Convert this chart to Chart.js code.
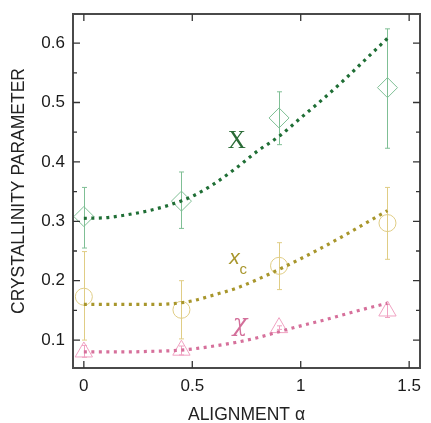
<!DOCTYPE html>
<html>
<head>
<meta charset="utf-8">
<script src="https://cdn.jsdelivr.net/npm/chart.js@4.4.1/dist/chart.umd.min.js"></script>
<style>
  html, body { margin: 0; padding: 0; background: #fff; }
  #wrap { width: 431px; height: 423px; }
</style>
</head>
<body>
<div id="wrap"><canvas id="chart" width="431" height="423"></canvas></div>
<script>
// measured points (alignment alpha)
const alphaPts = [0, 0.45, 0.9, 1.4];

const bigX = [0.308, 0.334, 0.474, 0.525];
const bigXLo = [0.255, 0.288, 0.429, 0.423];
const bigXHi = [0.357, 0.383, 0.518, 0.624];

const xc = [0.173, 0.151, 0.225, 0.297];
const xcLo = [0.100, 0.102, 0.185, 0.236];
const xcHi = [0.249, 0.200, 0.264, 0.357];

const chi = [0.080, 0.083, 0.121, 0.149];
const chiLo = [0.071, 0.075, 0.118, 0.138];
const chiHi = [0.091, 0.090, 0.124, 0.160];

// fitted curves
const fitAlpha = [0, 0.1, 0.2, 0.3, 0.4, 0.5, 0.6, 0.7, 0.8, 0.9, 1.0, 1.1, 1.2, 1.3, 1.4];
const fitBigX = [0.305, 0.306, 0.311, 0.318, 0.328, 0.342, 0.363, 0.389, 0.418, 0.443, 0.474, 0.505, 0.538, 0.573, 0.608];
const fitXc = [0.160, 0.160, 0.160, 0.160, 0.161, 0.166, 0.176, 0.187, 0.202, 0.219, 0.237, 0.256, 0.276, 0.297, 0.318];
const fitChi = [0.080, 0.080, 0.080, 0.081, 0.082, 0.085, 0.090, 0.096, 0.104, 0.114, 0.124, 0.133, 0.143, 0.153, 0.162];

const xTicks = [0, 0.5, 1, 1.5];
const yTicks = [0.1, 0.2, 0.3, 0.4, 0.5, 0.6];
const yMinor = [0.05, 0.15, 0.25, 0.35, 0.45, 0.55, 0.65];

const pts = (xs, ys) => xs.map((x, i) => ({ x, y: ys[i] }));

const fitLine = (ys, color) => ({
    type: 'line',
    data: pts(fitAlpha, ys),
    borderColor: color,
    borderWidth: 3.2,
    borderDash: [3, 4.5],
    borderCapStyle: 'butt',
    pointRadius: 0,
    cubicInterpolationMode: 'monotone',
    fill: false
});

const markers = (ys, lo, hi, style, r, color) => ({
    type: 'scatter',
    data: pts(alphaPts, ys),
    pointStyle: style,
    pointRadius: r,
    pointBorderColor: color,
    pointBackgroundColor: 'rgba(0,0,0,0)',
    pointBorderWidth: 1,
    errLo: lo,
    errHi: hi
});

// vertical error bars
const errorBars = {
    id: 'errorBars',
    beforeDatasetsDraw(chart) {
        const { ctx, scales: { x, y } } = chart;
        chart.data.datasets.forEach(ds => {
            if (!ds.errLo) return;
            ctx.save();
            ctx.strokeStyle = ds.pointBorderColor;
            ctx.lineWidth = 1;
            ds.data.forEach((p, i) => {
                const px = Math.round(x.getPixelForValue(p.x)) + 0.5;
                const y1 = y.getPixelForValue(ds.errLo[i]);
                const y2 = y.getPixelForValue(ds.errHi[i]);
                ctx.beginPath();
                ctx.moveTo(px, y1); ctx.lineTo(px, y2);
                ctx.moveTo(px - 2.5, y1); ctx.lineTo(px + 2.5, y1);
                ctx.moveTo(px - 2.5, y2); ctx.lineTo(px + 2.5, y2);
                ctx.stroke();
            });
            ctx.restore();
        });
    }
};

// frame, inward ticks, axis titles and curve labels
const decor = {
    id: 'decor',
    afterDraw(chart) {
        const { ctx, chartArea: a, scales: { x, y } } = chart;
        ctx.save();
        ctx.strokeStyle = '#4a4a4a';
        ctx.lineWidth = 2;
        ctx.strokeRect(a.left, a.top, a.right - a.left, a.bottom - a.top);
        ctx.lineWidth = 1.3;
        ctx.strokeStyle = '#333';
        ctx.beginPath();
        xTicks.forEach(v => {
            const px = x.getPixelForValue(v);
            ctx.moveTo(px, a.bottom); ctx.lineTo(px, a.bottom - 7);
            ctx.moveTo(px, a.top); ctx.lineTo(px, a.top + 7);
        });
        yTicks.forEach(v => {
            const py = y.getPixelForValue(v);
            ctx.moveTo(a.left, py); ctx.lineTo(a.left + 7, py);
            ctx.moveTo(a.right, py); ctx.lineTo(a.right - 7, py);
        });
        yMinor.forEach(v => {
            const py = y.getPixelForValue(v);
            if (py < a.top + 1 || py > a.bottom - 1) return;
            ctx.moveTo(a.left, py); ctx.lineTo(a.left + 4, py);
            ctx.moveTo(a.right, py); ctx.lineTo(a.right - 4, py);
        });
        ctx.stroke();

        ctx.fillStyle = '#222';
        ctx.font = '17.5px "Liberation Sans", Arial, sans-serif';
        ctx.textAlign = 'center';
        ctx.textBaseline = 'middle';
        ctx.fillText('ALIGNMENT \u03b1', (a.left + a.right) / 2, 415);
        ctx.save();
        ctx.translate(19, (a.top + a.bottom) / 2);
        ctx.rotate(-Math.PI / 2);
        ctx.fillText('CRYSTALLINITY PARAMETER', 0, 0);
        ctx.restore();

        // curve labels
        ctx.fillStyle = '#2a6b36';
        ctx.font = '25px "Liberation Serif", "Times New Roman", serif';
        ctx.fillText('X', x.getPixelForValue(0.705), y.getPixelForValue(0.435));
        ctx.fillStyle = '#a8962c';
        ctx.font = 'italic 21px "Liberation Sans", Arial, sans-serif';
        ctx.fillText('x', x.getPixelForValue(0.695), y.getPixelForValue(0.238));
        ctx.font = '15px "Liberation Sans", Arial, sans-serif';
        ctx.fillText('c', x.getPixelForValue(0.735), y.getPixelForValue(0.218));
        ctx.fillStyle = '#d36f9a';
        ctx.font = 'italic 24px "DejaVu Serif", "Liberation Serif", serif';
        ctx.fillText('\u03c7', x.getPixelForValue(0.72), y.getPixelForValue(0.126));
        ctx.restore();
    }
};

new Chart(document.getElementById('chart'), {
    data: {
        datasets: [
            fitLine(fitBigX, '#1f6e35'),
            fitLine(fitXc, '#a8962c'),
            fitLine(fitChi, '#d6709b'),
            markers(bigX, bigXLo, bigXHi, 'rectRot', 10, '#7fbf95'),
            markers(xc, xcLo, xcHi, 'circle', 8.5, '#e0cd85'),
            markers(chi, chiLo, chiHi, 'triangle', 10, '#f0a2c2')
        ]
    },
    options: {
        responsive: false,
        animation: false,
        layout: { padding: { top: 14, right: 2, left: 0, bottom: 0 } },
        plugins: { legend: { display: false }, tooltip: { enabled: false } },
        scales: {
            x: {
                type: 'linear',
                min: -0.05,
                max: 1.55,
                afterBuildTicks: s => { s.ticks = xTicks.map(v => ({ value: v })); },
                afterFit: s => { s.height = 55; },
                grid: { display: false },
                border: { display: false },
                ticks: {
                    padding: 0,
                    color: '#1a1a1a',
                    font: { family: '"Liberation Sans", Arial, sans-serif', size: 17 },
                    callback: v => String(v)
                }
            },
            y: {
                type: 'linear',
                min: 0.053,
                max: 0.649,
                afterBuildTicks: s => { s.ticks = yTicks.map(v => ({ value: v })); },
                afterFit: s => { s.width = 73; },
                grid: { display: false },
                border: { display: false },
                ticks: {
                    padding: 0,
                    color: '#1a1a1a',
                    font: { family: '"Liberation Sans", Arial, sans-serif', size: 17 },
                    callback: v => v.toFixed(1)
                }
            }
        }
    },
    plugins: [errorBars, decor]
});
</script>
</body>
</html>
